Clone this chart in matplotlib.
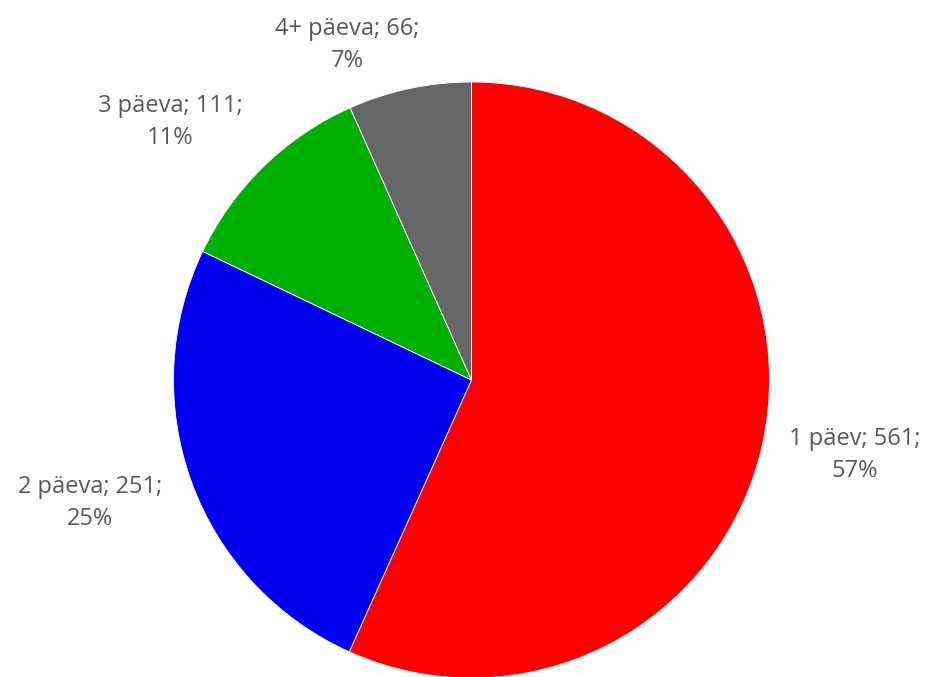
import matplotlib.pyplot as plt

# slice data
labels = ['1 päev', '2 päeva', '3 päeva', '4+ päeva']
counts = [561, 251, 111, 66]
colors = ['#FF0000', '#0000EE', '#00B000', '#666666']

# label centres in pie-radius units
label_pos = [(1.287, -0.252), (-1.280, -0.413), (-1.012, 0.866), (-0.418, 1.124)]

total = sum(counts)
texts = ['%s; %d;\n%d%%' % (l, c, round(c * 100 / total)) for l, c in zip(labels, counts)]

fig = plt.figure(figsize=(9.27, 6.77), dpi=100)
ax = fig.add_axes([0, 0, 1, 1])

wedges, _ = ax.pie(counts, colors=colors, startangle=90, counterclock=False,
                   radius=1.0, wedgeprops=dict(edgecolor='white', linewidth=0.6))

for txt, (x, y) in zip(texts, label_pos):
    ax.text(x, y, txt, ha='center', va='center', fontsize=17,
            color='#595959', family='Open Sans', linespacing=1.4)

s = 298.0
ax.set_xlim(-471.5 / s, (927 - 471.5) / s)
ax.set_ylim(-297 / s, (677 - 297) / s)
ax.set_aspect('auto')
ax.axis('off')

fig.savefig('out.png', dpi=100)
